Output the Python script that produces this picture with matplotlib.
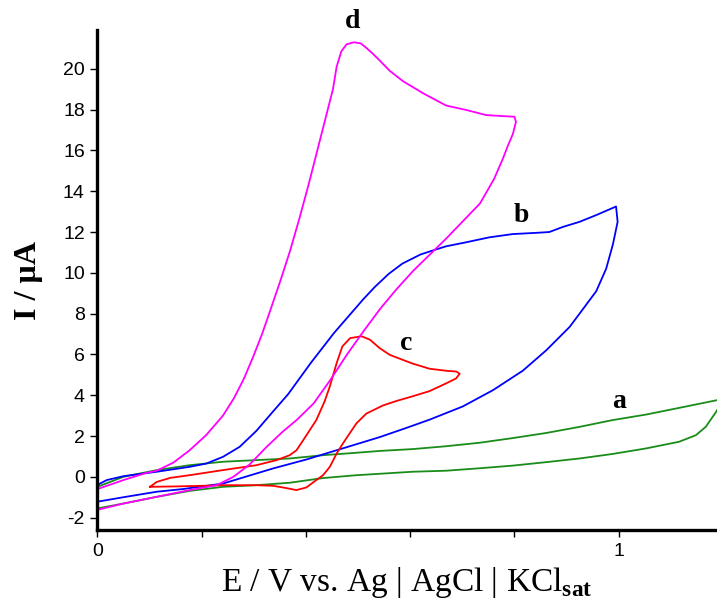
import numpy as np
import matplotlib
matplotlib.use("Agg")
import matplotlib.pyplot as plt

plt.rcParams['mathtext.fontset'] = 'custom'
plt.rcParams['mathtext.rm'] = 'Liberation Serif'
plt.rcParams['mathtext.bf'] = 'Liberation Serif:bold'
plt.rcParams['axes.unicode_minus'] = False

# curve a (green): forward branch then return branch
a_x = [0, 0.05, 0.114, 0.177, 0.241, 0.305, 0.369, 0.433, 0.497, 0.542, 0.605, 0.669, 0.733, 0.797,
       0.861, 0.925, 0.988, 1.052, 1.116, 1.187, 1.21,
       1.2, 1.187, 1.167, 1.148, 1.116, 1.052, 0.988, 0.925, 0.861, 0.797, 0.733, 0.669, 0.605,
       0.542, 0.497, 0.433, 0.369, 0.305, 0.241, 0.177, 0.114, 0.05, 0]
a_y = [-0.49, 0.0, 0.33, 0.57, 0.74, 0.82, 0.9, 1.06, 1.18, 1.27, 1.36, 1.5, 1.67, 1.9,
       2.15, 2.45, 2.78, 3.05, 3.38, 3.75, 3.88,
       3.75, 3.19, 2.45, 2.04, 1.72, 1.39, 1.12, 0.9, 0.72, 0.55, 0.42, 0.3, 0.25,
       0.15, 0.08, -0.06, -0.29, -0.41, -0.49, -0.69, -0.98, -1.31, -1.55]

# curve b (blue)
b_x = [0, 0.018, 0.05, 0.114, 0.177, 0.209, 0.241, 0.273, 0.305, 0.337, 0.366, 0.383, 0.41, 0.454,
       0.51, 0.532, 0.559, 0.585, 0.62, 0.644, 0.669, 0.708, 0.752, 0.797, 0.842, 0.867, 0.893,
       0.925, 0.957, 0.995,
       0.998, 0.989, 0.976, 0.957, 0.925, 0.906, 0.861, 0.816, 0.759, 0.701, 0.637, 0.593, 0.542,
       0.465, 0.401, 0.337, 0.241, 0.164, 0.114, 0.05, 0]
b_y = [-0.4, -0.16, 0.03, 0.25, 0.49, 0.65, 0.98, 1.47, 2.25, 3.2, 4.05, 4.65, 5.6, 7.05,
       8.7, 9.3, 9.95, 10.45, 10.9, 11.1, 11.3, 11.5, 11.74, 11.9, 11.96, 12.0, 12.25,
       12.5, 12.83, 13.25,
       12.5, 11.4, 10.2, 9.1, 8.0, 7.35, 6.2, 5.2, 4.25, 3.45, 2.8, 2.4, 1.95,
       1.35, 0.85, 0.41, -0.33, -0.6, -0.73, -1.0, -1.22]

# curve c (red)
c_x = [0.101, 0.114, 0.14, 0.177, 0.241, 0.305, 0.344, 0.369, 0.382, 0.395, 0.42, 0.436, 0.446,
       0.459, 0.47, 0.485, 0.507, 0.523, 0.542, 0.561, 0.574, 0.605, 0.637, 0.669, 0.689, 0.695,
       0.688, 0.669, 0.637, 0.605, 0.574, 0.548, 0.516, 0.497, 0.484, 0.471, 0.459, 0.446, 0.433,
       0.42, 0.401, 0.382, 0.356, 0.337, 0.305, 0.241, 0.2, 0.15, 0.101]
c_y = [-0.49, -0.25, -0.05, 0.08, 0.33, 0.57, 0.82, 1.06, 1.3, 1.8, 2.78, 3.7, 4.43,
       5.57, 6.39, 6.8, 6.89, 6.72, 6.3, 5.98, 5.85, 5.55, 5.3, 5.2, 5.16, 5.05,
       4.82, 4.58, 4.2, 3.95, 3.72, 3.5, 3.1, 2.62, 2.13, 1.63, 1.14, 0.49, 0.08,
       -0.16, -0.52, -0.65, -0.52, -0.44, -0.41, -0.41, -0.44, -0.47, -0.49]

# curve d (magenta)
d_x = [0, 0.05, 0.095, 0.114, 0.146, 0.177, 0.209, 0.241, 0.262, 0.281, 0.3, 0.316, 0.331, 0.351,
       0.37, 0.388, 0.405, 0.423, 0.439, 0.452, 0.459, 0.468, 0.478, 0.492, 0.505, 0.515, 0.528,
       0.542, 0.561, 0.586, 0.625, 0.669, 0.708, 0.746, 0.8, 0.803,
       0.797, 0.787, 0.778, 0.761, 0.734, 0.702, 0.67, 0.638, 0.606, 0.574, 0.543,
       0.511, 0.479, 0.447, 0.415, 0.383, 0.355, 0.324, 0.292, 0.261, 0.229, 0.177, 0.114, 0.05, 0]
d_y = [-0.6, -0.16, 0.2, 0.3, 0.7, 1.3, 2.05, 3.0, 3.85, 4.8, 5.95, 7.0, 8.1, 9.6,
       11.1, 12.7, 14.3, 16.1, 17.7, 19.0, 20.1, 20.85, 21.2, 21.3, 21.25, 21.05, 20.75,
       20.4, 19.9, 19.4, 18.8, 18.2, 17.98, 17.73, 17.65, 17.4,
       16.8, 16.2, 15.6, 14.6, 13.4, 12.55, 11.7, 10.9, 10.1, 9.2, 8.25,
       7.15, 6.0, 4.75, 3.6, 2.8, 2.2, 1.45, 0.6, 0.0, -0.41, -0.65, -0.98, -1.31, -1.62]

curve_labels = ['a', 'b', 'c', 'd']
label_pos = [(1.001, 3.68), (0.813, 12.8), (0.593, 6.54), (0.49, 22.3)]
colors = ['#1a8c1a', '#0000ff', '#ff0000', '#ff00ff']

fig = plt.figure(figsize=(7.17, 6.01), dpi=100)
ax = fig.add_axes([0.1357, 0.118, 1 - 0.1357, 0.832])

for xs, ys, col in zip([a_x, b_x, c_x, d_x], [a_y, b_y, c_y, d_y], colors):
    ax.plot(xs, ys, color=col, lw=1.3)

for lab, (lx, ly) in zip(curve_labels, label_pos):
    ax.text(lx, ly, lab, fontsize=20, fontweight='bold', family='Liberation Serif',
            ha='center', va='center', clip_on=False)

ax.set_xlim(0, 1.1886)
ax.set_ylim(-2.61, 21.9)
ax.set_yticks(np.arange(-2, 21, 2))
ax.set_xticks([0, 0.2, 0.4, 0.6, 0.8, 1.0])
ax.set_xticklabels(['0', '', '', '', '', '1'])

ax.spines['top'].set_visible(False)
ax.spines['right'].set_visible(False)
ax.spines['left'].set_linewidth(2.4)
ax.spines['bottom'].set_linewidth(2.4)
ax.tick_params(direction='out', length=5, width=1, labelsize=14, pad=4)
for t in ax.get_xticklabels() + ax.get_yticklabels():
    t.set_family('Liberation Sans')

ax.set_xlabel(r'E / V vs. Ag | AgCl | KCl$_{\mathbf{sat}}$', fontsize=24,
              family='Liberation Serif', labelpad=4)
ax.set_ylabel('I / µA', fontsize=23, fontweight='bold', family='Liberation Serif', labelpad=14)

fig.savefig('out.png', dpi=100)
